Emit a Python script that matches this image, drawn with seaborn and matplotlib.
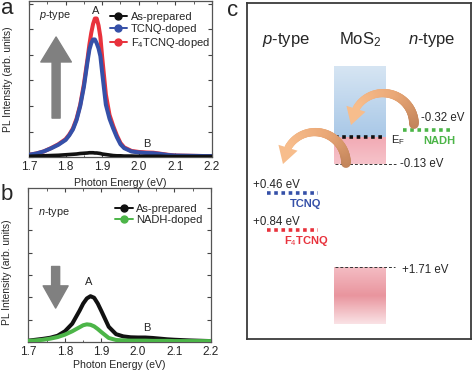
import numpy as np
import matplotlib
matplotlib.use('Agg')
import matplotlib.pyplot as plt
import seaborn as sns
from matplotlib.lines import Line2D
from matplotlib.collections import LineCollection
from matplotlib.patches import Polygon
from matplotlib.colors import LinearSegmentedColormap

# panel a: p-type doping (PL intensity, arb. units)
energy_a = [1.70, 1.72, 1.74, 1.76, 1.78, 1.80, 1.81, 1.82, 1.83, 1.84, 1.85, 1.86,
            1.865, 1.87, 1.875, 1.88, 1.885, 1.89, 1.895, 1.90, 1.91, 1.92, 1.93, 1.94,
            1.95, 1.96, 1.98, 2.00, 2.02, 2.04, 2.06, 2.08, 2.10, 2.14, 2.18, 2.20]
as_prepared_a = [0.03, 0.04, 0.05, 0.06, 0.07, 0.09, 0.10, 0.11, 0.12, 0.14, 0.15, 0.16,
                 0.17, 0.17, 0.17, 0.16, 0.16, 0.15, 0.14, 0.12, 0.10, 0.08, 0.06, 0.05,
                 0.05, 0.04, 0.04, 0.03, 0.03, 0.03, 0.03, 0.02, 0.02, 0.02, 0.02, 0.02]
tcnq = [0.09, 0.14, 0.22, 0.34, 0.48, 0.67, 0.85, 1.08, 1.45, 2.00, 2.75, 3.75,
        4.20, 4.45, 4.60, 4.60, 4.45, 4.25, 3.95, 3.30, 2.05, 1.50, 1.12, 0.78,
        0.50, 0.35, 0.22, 0.18, 0.16, 0.15, 0.12, 0.08, 0.06, 0.05, 0.04, 0.04]
f4tcnq = [0.09, 0.14, 0.22, 0.35, 0.50, 0.70, 0.88, 1.12, 1.50, 2.05, 2.85, 3.85,
          4.40, 4.85, 5.20, 5.42, 5.42, 5.15, 4.70, 3.90, 2.45, 1.65, 1.22, 0.85,
          0.55, 0.38, 0.24, 0.20, 0.18, 0.17, 0.13, 0.09, 0.06, 0.05, 0.04, 0.04]

# panel b: n-type doping
energy_b = [1.70, 1.72, 1.74, 1.76, 1.78, 1.80, 1.82, 1.84, 1.85, 1.86, 1.87, 1.88,
            1.89, 1.90, 1.92, 1.94, 1.96, 1.98, 2.00, 2.02, 2.04, 2.06, 2.08, 2.10,
            2.14, 2.18, 2.20]
as_prepared_b = [0.06, 0.10, 0.14, 0.19, 0.28, 0.48, 0.82, 1.40, 1.72, 1.95, 2.05, 1.98,
                 1.72, 1.38, 0.68, 0.35, 0.25, 0.21, 0.20, 0.20, 0.18, 0.15, 0.12, 0.10,
                 0.07, 0.05, 0.04]
nadh = [0.05, 0.07, 0.10, 0.15, 0.22, 0.33, 0.48, 0.66, 0.75, 0.79, 0.77, 0.70,
        0.58, 0.44, 0.18, 0.09, 0.07, 0.06, 0.06, 0.06, 0.05, 0.05, 0.05, 0.04,
        0.04, 0.04, 0.04]

xticks = [1.7, 1.8, 1.9, 2.0, 2.1, 2.2]
legend_a = ['As-prepared', 'TCNQ-doped', 'F$_4$TCNQ-doped']
legend_b = ['As-prepared', 'NADH-doped']

# panel c: energy levels
acceptors = ['TCNQ', 'F$_4$TCNQ']
acceptor_levels = ['+0.46 eV', '+0.84 eV']
donor = 'NADH'
donor_level = '-0.32 eV'
vb_edge = '-0.13 eV'
cb_edge = '+1.71 eV'

BLACK = '#111111'
BLUE = '#3550a8'
RED = '#e8323c'
GREEN = '#4cb548'
GRAY = '#808080'

sns.set_style('ticks')
plt.rcParams['font.family'] = ['Liberation Sans', 'DejaVu Sans']
plt.rcParams['mathtext.fontset'] = 'custom'
plt.rcParams['mathtext.rm'] = 'Liberation Sans'
plt.rcParams['mathtext.it'] = 'Liberation Sans:italic'
plt.rcParams['mathtext.bf'] = 'Liberation Sans:bold'

fig = plt.figure(figsize=(4.74, 3.74), dpi=100)
ax_a = fig.add_axes([0.0612, 0.580, 0.386, 0.417])
ax_b = fig.add_axes([0.060, 0.0856, 0.385, 0.412])
ax_c = fig.add_axes([0.521, 0.0936, 0.4726, 0.898])
ax_b.set_facecolor('none')


def style_spectrum(ax, ymax):
    ax.set_xlim(1.7, 2.2)
    ax.set_ylim(0, ymax)
    ax.set_xticks(xticks)
    ax.set_xticks([1.75, 1.85, 1.95, 2.05, 2.15], minor=True)
    ax.set_xticklabels([f'{t:.1f}' for t in xticks], fontsize=8.5)
    ax.set_yticks(range(0, int(ymax) + 1))
    ax.set_yticklabels([])
    ax.tick_params(direction='in', top=True, right=True, length=3, width=0.8,
                   color='#444444', pad=3)
    ax.tick_params(which='minor', direction='in', top=True, length=1.8, width=0.6,
                   color='#444444')
    for s in ax.spines.values():
        s.set_color('#555555')
        s.set_linewidth(0.9)
    ax.set_xlabel('Photon Energy (eV)', fontsize=7.6)
    ax.set_ylabel('PL Intensity (arb. units)', fontsize=7.4)


def legend_handles(colors):
    return [Line2D([], [], color=c, lw=1.4, marker='o', markersize=5) for c in colors]


def curved_arrow(ax, cx, cy, r, head_len=16, head_half=10):
    # semicircular arrow going over the top from right to left, brown -> light orange
    dth = head_len / r
    th = np.linspace(0, np.pi - dth, 60)
    px = cx + r * np.cos(th)
    py = cy - r * np.sin(th)
    pts = np.column_stack([px, py]).reshape(-1, 1, 2)
    segs = np.concatenate([pts[:-1], pts[1:]], axis=1)
    grad = LinearSegmentedColormap.from_list('arr', ['#c2845a', '#eaa877', '#f7bd8c'])
    lc = LineCollection(segs, colors=grad(np.linspace(0, 1, len(segs))),
                        linewidths=np.linspace(7.0, 5.2, len(segs)), capstyle='round',
                        zorder=4)
    ax.add_collection(lc)
    base = np.array([px[-1], py[-1]])
    tip = np.array([cx - r - 1, cy + 1])
    d = (tip - base) / np.hypot(*(tip - base))
    n = np.array([-d[1], d[0]])
    ax.add_patch(Polygon([base + head_half * n, tip, base - head_half * n],
                         closed=True, color='#f7bd8c', lw=0, zorder=5))


# ---- panel a
sns.lineplot(x=energy_a, y=f4tcnq, color=RED, lw=2.9, ax=ax_a, zorder=2)
sns.lineplot(x=energy_a, y=tcnq, color=BLUE, lw=2.9, ax=ax_a, zorder=3)
sns.lineplot(x=energy_a, y=as_prepared_a, color=BLACK, lw=2.6, ax=ax_a, zorder=4)
style_spectrum(ax_a, 6.1)
ax_a.xaxis.set_label_coords(0.5, -0.135)
ax_a.yaxis.set_label_coords(-0.088, 0.5)
ax_a.legend(legend_handles([BLACK, BLUE, RED]), legend_a, loc='upper left',
            bbox_to_anchor=(0.44, 0.928), frameon=False, fontsize=8,
            handlelength=1.6, handletextpad=0.35, labelspacing=0.15,
            borderpad=0, borderaxespad=0)
ax_a.text(1.77, 5.55, '$\\it{p}$-type', ha='center', va='center', fontsize=7.8)
ax_a.text(1.883, 5.72, 'A', ha='center', va='center', fontsize=8)
ax_a.text(2.022, 0.5, 'B', ha='center', va='center', fontsize=8)
ax_a.annotate('', xy=(0.148, 0.77), xytext=(0.148, 0.25), xycoords='axes fraction',
              arrowprops=dict(width=5.8, headwidth=22, headlength=18, color=GRAY,
                              shrink=0))

# ---- panel b
sns.lineplot(x=energy_b, y=as_prepared_b, color=BLACK, lw=2.9, ax=ax_b, zorder=2)
sns.lineplot(x=energy_b, y=nadh, color=GREEN, lw=2.9, ax=ax_b, zorder=3)
style_spectrum(ax_b, 6.9)
ax_b.xaxis.set_label_coords(0.5, -0.12)
ax_b.yaxis.set_label_coords(-0.09, 0.45)
ax_b.legend(legend_handles([BLACK, GREEN]), legend_b, loc='upper left',
            bbox_to_anchor=(0.474, 0.898), frameon=False, fontsize=8,
            handlelength=1.6, handletextpad=0.3, labelspacing=0.15,
            borderpad=0, borderaxespad=0)
ax_b.text(1.771, 5.84, '$\\it{n}$-type', ha='center', va='center', fontsize=7.8)
ax_b.text(1.864, 2.7, 'A', ha='center', va='center', fontsize=8)
ax_b.text(2.024, 0.63, 'B', ha='center', va='center', fontsize=8)
ax_b.annotate('', xy=(0.149, 0.22), xytext=(0.149, 0.49), xycoords='axes fraction',
              arrowprops=dict(width=5.8, headwidth=18, headlength=16, color=GRAY,
                              shrink=0))

# ---- panel c (schematic, drawn in pixel-like coordinates)
ramp = np.linspace(0, 1, 100).reshape(-1, 1)
cb_cmap = LinearSegmentedColormap.from_list('cb', ['#d6e5f3', '#a9c8e7'])
ax_c.imshow(ramp, cmap=cb_cmap, extent=(334, 385, 137, 66), aspect='auto', zorder=1)
ef_cmap = LinearSegmentedColormap.from_list('ef', ['#f2aab4', '#f6c3ca'])
ax_c.imshow(ramp, cmap=ef_cmap, extent=(334, 385, 164, 137), aspect='auto', zorder=1)
vb_cmap = LinearSegmentedColormap.from_list('vb', ['#f4bcc3', '#e9959e', '#fae2e5'])
ax_c.imshow(ramp, cmap=vb_cmap, extent=(334, 385, 324, 267), aspect='auto', zorder=1)
ax_c.set_xlim(247, 471)
ax_c.set_ylim(339, 3)
ax_c.set_xticks([])
ax_c.set_yticks([])
for s in ax_c.spines.values():
    s.set_color('#3a3a3a')
    s.set_linewidth(1.3)

ax_c.text(286, 40, '$\\it{p}$-type', ha='center', va='center', fontsize=12)
ax_c.text(360, 40, 'MoS$_2$', ha='center', va='center', fontsize=12)
ax_c.text(432, 40, '$\\it{n}$-type', ha='center', va='center', fontsize=12)

dots = (0, (1, 1))
ax_c.plot([335, 385], [137, 137], color=BLACK, lw=2.6, ls=dots, zorder=3)
ax_c.text(391, 140, 'E$_\\mathrm{F}$', ha='left', va='center', fontsize=8)
ax_c.plot([335, 396], [164, 164], color='#333333', lw=0.7, ls=(0, (3, 2)), zorder=3)
ax_c.text(400, 164, vb_edge, ha='left', va='center', fontsize=8.3)
ax_c.plot([335, 395], [267, 267], color='#333333', lw=0.7, ls=(0, (3, 2)), zorder=3)
ax_c.text(402, 270, cb_edge, ha='left', va='center', fontsize=8.3)

ax_c.plot([403, 453], [130, 130], color=GREEN, lw=2.6, ls=dots, zorder=3)
ax_c.text(421, 118, donor_level, ha='left', va='center', fontsize=8.3)
ax_c.text(439, 141, donor, ha='center', va='center', fontsize=8, color=GREEN,
          fontweight='bold')

for name, level, y, col in zip(acceptors, acceptor_levels, [193, 230], [BLUE, RED]):
    ax_c.text(253, y - 8, level, ha='left', va='center', fontsize=8.3)
    ax_c.plot([267, 318], [y, y], color=col, lw=2.6, ls=dots, zorder=3)
    ax_c.text(306, y + 10.5, name, ha='center', va='center', fontsize=8, color=col,
              fontweight='bold')

curved_arrow(ax_c, 383, 124, 31)
curved_arrow(ax_c, 315, 163, 31)

fig.text(7 / 474, 1 - 9 / 374, 'a', fontsize=16, ha='center', va='center')
fig.text(7 / 474, 1 - 195 / 374, 'b', fontsize=16, ha='center', va='center')
fig.text(233 / 474, 1 - 10 / 374, 'c', fontsize=16, ha='center', va='center')

fig.savefig('out.png', dpi=100)
